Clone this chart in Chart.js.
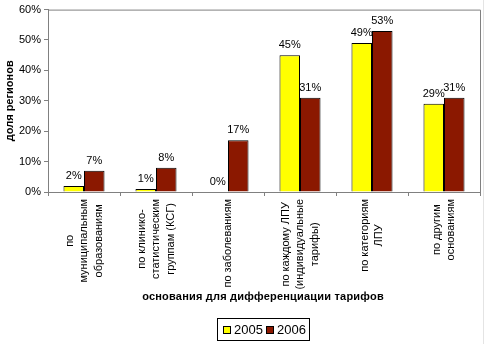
<!DOCTYPE html>
<html>
<head>
<meta charset="utf-8">
<script src="https://cdn.jsdelivr.net/npm/chart.js@4"></script>
<style>
  html, body { margin: 0; padding: 0; background: #fff; }
  #chart { display: block; }
</style>
</head>
<body>
<canvas id="chart" width="484" height="344"></canvas>
<script>
// ================= DATA =================
const categories = [
  ["по", "муниципальным", "образованиям"],
  ["по клинико-", "статистическим", "группам (КСГ)"],
  ["по заболеваниям"],
  ["по каждому ЛПУ", "(индивидуальные", "тарифы)"],
  ["по категориям", "ЛПУ"],
  ["по другим", "основаниям"]
];
const seriesNames = ["2005", "2006"];
const values2005 = [2, 1, 0, 45, 49, 29];
const values2006 = [7, 8, 17, 31, 53, 31];
const yTicks = [0, 10, 20, 30, 40, 50, 60];

const yTitle = "доля регионов";
const xTitle = "основания для дифференциации тарифов";

const colors = ["#ffff00", "#8b1800"];
const FONT = "'Liberation Sans', Arial, sans-serif";
const AXIS = "#808080";

// ================= PLUGIN: labels, legend, frame =================
const decor = {
  id: "decor",
  afterDatasetsDraw(chart) {
    const ctx = chart.ctx;
    const area = chart.chartArea;
    const xs = chart.scales.x;

    ctx.save();

    // plot frame (top + right)
    ctx.strokeStyle = AXIS;
    ctx.lineWidth = 1;
    ctx.beginPath();
    ctx.moveTo(area.left, area.top + 0.5);
    ctx.lineTo(area.right + 0.5, area.top + 0.5);
    ctx.lineTo(area.right + 0.5, area.bottom);
    ctx.stroke();

    // faint outer edge on the right
    ctx.strokeStyle = "#e4e4e4";
    ctx.beginPath();
    ctx.moveTo(483.5, 0);
    ctx.lineTo(483.5, chart.height);
    ctx.stroke();

    // value labels above bars
    ctx.fillStyle = "#000";
    ctx.font = "11px " + FONT;
    ctx.textAlign = "center";
    ctx.textBaseline = "middle";
    chart.data.datasets.forEach((ds, di) => {
      chart.getDatasetMeta(di).data.forEach((bar, i) => {
        ctx.fillText(ds.data[i] + "%", bar.x, bar.y - 10);
      });
    });

    // category labels, rotated, lines centred on each other
    const lh = 14.5;
    categories.forEach((lines, i) => {
      const cx = xs.getPixelForValue(i);
      ctx.font = "11px " + FONT;
      const widest = Math.max(...lines.map(l => ctx.measureText(l).width));
      ctx.save();
      ctx.translate(cx, area.bottom + 7);
      ctx.rotate(-Math.PI / 2);
      ctx.textAlign = "center";
      ctx.textBaseline = "middle";
      lines.forEach((l, k) => {
        const off = (k - (lines.length - 1) / 2) * lh;
        ctx.fillText(l, -widest / 2, off);
      });
      ctx.restore();
    });

    // x axis title
    ctx.font = "bold 11px " + FONT;
    ctx.letterSpacing = "0.2px";
    ctx.textAlign = "center";
    ctx.textBaseline = "middle";
    ctx.fillText(xTitle, 263, 297);
    ctx.letterSpacing = "0px";

    // legend
    const lx = 217, ly = 318, lw = 92, lhgt = 22;
    ctx.strokeStyle = "#000";
    ctx.strokeRect(lx + 0.5, ly + 0.5, lw, lhgt);
    ctx.font = "13px " + FONT;
    ctx.textAlign = "left";
    let x = lx + 6;
    seriesNames.forEach((name, i) => {
      ctx.fillStyle = colors[i];
      ctx.fillRect(x, ly + 8, 7, 7);
      ctx.strokeStyle = "#000";
      ctx.strokeRect(x + 0.5, ly + 8.5, 7, 7);
      ctx.fillStyle = "#000";
      ctx.fillText(name, x + 11, ly + 12);
      x += 43;
    });

    ctx.restore();
  }
};

// ================= CHART =================
new Chart(document.getElementById("chart"), {
  type: "bar",
  data: {
    labels: categories,
    datasets: [
      {
        label: seriesNames[0],
        data: values2005,
        backgroundColor: colors[0],
        borderColor: "#000",
        borderWidth: 1,
        borderSkipped: "bottom"
      },
      {
        label: seriesNames[1],
        data: values2006,
        backgroundColor: colors[1],
        borderColor: "#000",
        borderWidth: 1,
        borderSkipped: "bottom"
      }
    ]
  },
  options: {
    responsive: false,
    animation: false,
    events: [],
    layout: { padding: { top: 7, right: 4, left: 0, bottom: 0 } },
    datasets: {
      bar: { categoryPercentage: 0.57, barPercentage: 1.0 }
    },
    plugins: {
      legend: { display: false },
      tooltip: { enabled: false }
    },
    scales: {
      x: {
        offset: true,
        afterFit(scale) { scale.height = 152; },
        ticks: { display: false },
        grid: {
          offset: true,
          drawOnChartArea: false,
          drawTicks: true,
          tickLength: 4,
          color: AXIS
        },
        border: { color: AXIS }
      },
      y: {
        min: 0,
        max: 60,
        afterFit(scale) { scale.width = 48; },
        afterBuildTicks(scale) {
          scale.ticks = yTicks.map(v => ({ value: v }));
        },
        ticks: {
          padding: 3,
          color: "#000",
          font: { family: FONT, size: 11 },
          callback: v => v + "%"
        },
        grid: {
          drawOnChartArea: false,
          drawTicks: true,
          tickLength: 4,
          color: AXIS
        },
        border: { color: AXIS },
        title: {
          display: true,
          text: yTitle,
          color: "#000",
          font: { family: FONT, size: 11, weight: "bold" },
          padding: { top: 3, bottom: 0 }
        }
      }
    }
  },
  plugins: [decor]
});
</script>
</body>
</html>
